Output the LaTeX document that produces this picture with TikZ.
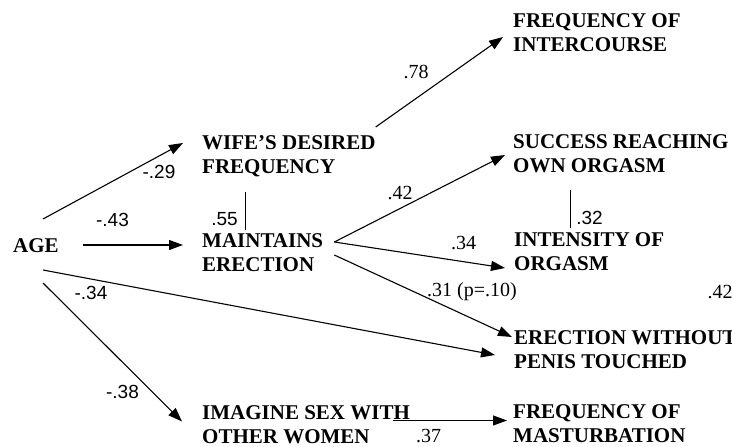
\documentclass[tikz,border=0pt]{standalone}
\usepackage{fontspec}
\setmainfont{Liberation Serif}
\newfontfamily\arialfont{Liberation Sans}
\usetikzlibrary{arrows.meta}

\tikzset{
  var/.style={anchor=west, align=left, inner sep=0pt,
    font=\fontsize{21}{24}\selectfont\bfseries},
  coef/.style={inner sep=0pt, font=\fontsize{20}{24}\selectfont},
  coefsans/.style={inner sep=0pt, font=\fontsize{19}{22}\selectfont\arialfont},
  path/.style={line width=1.1pt, -{Triangle[length=14pt,width=10pt]}},
  link/.style={line width=1pt}
}

\begin{document}
\begin{tikzpicture}[x=1pt, y=-1pt]
\useasboundingbox (0,0) rectangle (732,447);
\clip (0,0) rectangle (732,447);
\node [var] (age) at (13,246) {AGE};
\node [var] (wife) at (202,156.5) {WIFE'S DESIRED\\FREQUENCY};
\node [var] (maint) at (202,253) {MAINTAINS\\ERECTION};
\node [var] (inter) at (513,32.5) {FREQUENCY OF\\INTERCOURSE};
\node [var] (succ) at (513,154) {SUCCESS REACHING\\OWN ORGASM};
\node [var] (inten) at (514,251.5) {INTENSITY OF\\ORGASM};
\node [var] (ewo) at (514,350) {ERECTION WITHOUT\\PENIS TOUCHED};
\node [var] (imag) at (202,424.5) {IMAGINE SEX WITH\\OTHER WOMEN};
\node [var] (mast) at (513,424) {FREQUENCY OF\\MASTURBATION};

% paths from age
\draw [path] ([shift={(30,-27)}]age.west) -- ([shift={(-19,-13.5)}]wife.west);
\draw [path] ([shift={(24,-1)}]age.east) -- ([shift={(-19,-8)}]maint.west);
\draw [path] ([shift={(30,24)}]age.west) -- ([shift={(-19,5)}]ewo.west);
\draw [path] ([shift={(30,37)}]age.west) -- ([shift={(-20,-3)}]imag.west);

% paths from the middle column
\draw [path] ([shift={(0,-29.5)}]wife.east) -- ([shift={(-10,4.5)}]inter.west);
\draw [path] ([shift={(11,-11)}]maint.east) -- ([shift={(-8,1)}]succ.west);
\draw [path] ([shift={(11,-11)}]maint.east) -- ([shift={(-9,16.5)}]inten.west);
\draw [path] ([shift={(11,2)}]maint.east) -- ([shift={(-2,-13)}]ewo.west);
\draw [path] ([shift={(191,-4)}]imag.west) -- ([shift={(-6,-3.5)}]mast.west);

% correlations
\draw [link] ([shift={(43,35.5)}]wife.west) -- ([shift={(43,-23)}]maint.west);
\draw [link] ([shift={(57,36)}]succ.west) -- ([shift={(56,-23.5)}]inten.west);

% coefficients
\node [coefsans] (c29) at (159,172) {-.29};
\node [coefsans] (c43) at (112.5,220) {-.43};
\node [coefsans] (c55) at (224.5,219) {.55};
\node [coefsans] (c34) at (91,293) {-.34};
\node [coefsans] (c38) at (122.5,392) {-.38};
\node [coef] (c78) at (416,72) {.78};
\node [coef] (c42a) at (400,193) {.42};
\node [coefsans] (c32) at (589.5,218) {.32};
\node [coef] (c34b) at (463.5,243) {.34};
\node [coef] (c31) at (472,292) {.31 (p=.10)};
\node [coef] (c42b) at (720,292) {.42};
\node [coef] (c37) at (428.5,436) {.37};
\end{tikzpicture}
\end{document}
